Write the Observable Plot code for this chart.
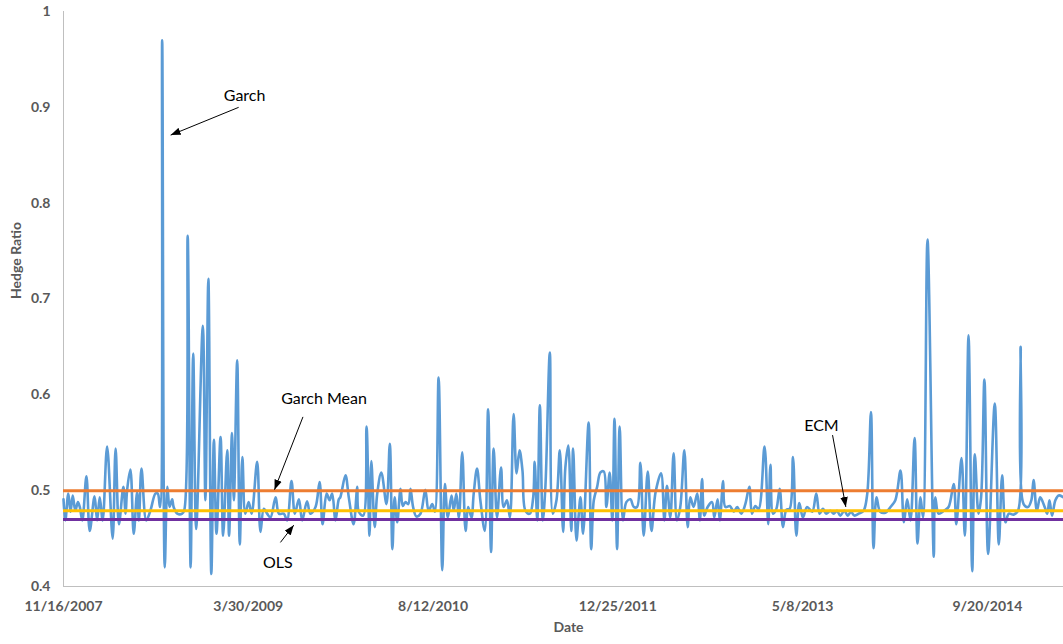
<!DOCTYPE html>
<html>
<head>
<meta charset="utf-8">
<script src="https://cdn.jsdelivr.net/npm/d3@7"></script>
<script src="https://cdn.jsdelivr.net/npm/@observablehq/plot@0.6"></script>
<style>
  body { margin: 0; background: #fff; }
</style>
</head>
<body>
<div id="chart"></div>
<script>
// Weekly GARCH hedge ratio (date, ratio)
const garchSeries = [
  ["2007-11-16",0.491],["2007-11-21",0.469],["2007-11-29",0.497],["2007-12-05",0.478],["2007-12-11",0.495],
  ["2007-12-18",0.479],["2007-12-25",0.488],["2007-12-30",0.483],["2008-01-06",0.469],["2008-01-17",0.515],
  ["2008-01-26",0.458],["2008-02-08",0.494],["2008-02-15",0.469],["2008-02-22",0.493],["2008-03-01",0.469],
  ["2008-03-13",0.546],["2008-03-28",0.450],["2008-04-05",0.544],["2008-04-14",0.465],["2008-04-26",0.504],
  ["2008-05-02",0.476],["2008-05-06",0.500],["2008-05-15",0.522],["2008-05-24",0.455],["2008-06-02",0.498],
  ["2008-06-07",0.469],["2008-06-14",0.523],["2008-06-27",0.469],["2008-07-08",0.479],["2008-07-22",0.497],
  ["2008-07-28",0.497],["2008-08-03",0.483],["2008-08-09",0.970],["2008-08-16",0.420],["2008-08-23",0.504],
  ["2008-08-29",0.483],["2008-09-05",0.491],["2008-09-09",0.483],["2008-09-19",0.476],["2008-10-02",0.476],
  ["2008-10-08",0.480],["2008-10-17",0.766],["2008-10-25",0.420],["2008-11-01",0.643],["2008-11-09",0.460],
  ["2008-11-27",0.672],["2008-12-04",0.490],["2008-12-12",0.721],["2008-12-20",0.413],["2008-12-27",0.553],
  ["2009-01-03",0.455],["2009-01-14",0.556],["2009-01-21",0.453],["2009-02-01",0.542],["2009-02-06",0.453],
  ["2009-02-14",0.560],["2009-02-19",0.490],["2009-02-28",0.636],["2009-03-07",0.444],["2009-03-14",0.535],
  ["2009-03-22",0.476],["2009-03-31",0.488],["2009-04-08",0.476],["2009-04-23",0.530],["2009-05-02",0.457],
  ["2009-05-11",0.481],["2009-05-20",0.476],["2009-05-29",0.472],["2009-06-12",0.493],["2009-06-21",0.476],
  ["2009-07-04",0.476],["2009-07-13",0.469],["2009-07-25",0.510],["2009-08-03",0.476],["2009-08-14",0.491],
  ["2009-08-23",0.469],["2009-09-05",0.489],["2009-09-14",0.476],["2009-09-28",0.483],["2009-10-09",0.509],
  ["2009-10-17",0.465],["2009-10-28",0.497],["2009-11-05",0.490],["2009-11-12",0.497],["2009-11-21",0.469],
  ["2009-11-30",0.491],["2009-12-04",0.493],["2009-12-18",0.516],["2009-12-27",0.493],["2010-01-09",0.465],
  ["2010-01-19",0.504],["2010-01-23",0.478],["2010-02-04",0.474],["2010-02-13",0.567],["2010-02-21",0.453],
  ["2010-02-26",0.531],["2010-03-07",0.462],["2010-03-14",0.497],["2010-03-25",0.519],["2010-04-08",0.486],
  ["2010-04-17",0.549],["2010-04-24",0.439],["2010-04-30",0.493],["2010-05-07",0.467],["2010-05-16",0.502],
  ["2010-05-22",0.484],["2010-05-29",0.488],["2010-06-06",0.486],["2010-06-12",0.502],["2010-06-19",0.483],
  ["2010-06-28",0.473],["2010-07-09",0.476],["2010-07-22",0.501],["2010-07-31",0.479],["2010-08-10",0.486],
  ["2010-08-17",0.478],["2010-08-27",0.618],["2010-09-06",0.417],["2010-09-13",0.507],["2010-09-21",0.472],
  ["2010-10-01",0.495],["2010-10-07",0.479],["2010-10-14",0.497],["2010-10-21",0.472],["2010-10-30",0.540],
  ["2010-11-08",0.458],["2010-11-15",0.483],["2010-11-24",0.472],["2010-11-30",0.497],["2010-12-09",0.523],
  ["2010-12-18",0.490],["2010-12-30",0.458],["2011-01-08",0.585],["2011-01-16",0.436],["2011-01-23",0.544],
  ["2011-02-01",0.472],["2011-02-12",0.524],["2011-02-19",0.483],["2011-02-28",0.490],["2011-03-08",0.472],
  ["2011-03-18",0.580],["2011-03-26",0.518],["2011-04-03",0.542],["2011-04-11",0.521],["2011-04-19",0.479],
  ["2011-05-01",0.476],["2011-05-10",0.493],["2011-05-14",0.530],["2011-05-21",0.469],["2011-05-28",0.589],
  ["2011-06-05",0.469],["2011-06-12",0.504],["2011-06-24",0.644],["2011-07-02",0.476],["2011-07-12",0.490],
  ["2011-07-21",0.542],["2011-07-30",0.457],["2011-08-05",0.524],["2011-08-13",0.547],["2011-08-21",0.458],
  ["2011-08-26",0.544],["2011-09-04",0.448],["2011-09-09",0.469],["2011-09-15",0.493],["2011-09-22",0.455],
  ["2011-10-07",0.571],["2011-10-14",0.439],["2011-10-21",0.490],["2011-10-30",0.504],["2011-11-08",0.519],
  ["2011-11-17",0.520],["2011-11-24",0.483],["2011-12-03",0.519],["2011-12-10",0.469],["2011-12-16",0.575],
  ["2011-12-23",0.439],["2011-12-30",0.567],["2012-01-08",0.469],["2012-01-17",0.488],["2012-01-28",0.491],
  ["2012-02-06",0.483],["2012-02-15",0.483],["2012-02-24",0.529],["2012-03-04",0.453],["2012-03-15",0.520],
  ["2012-03-25",0.458],["2012-04-05",0.498],["2012-04-20",0.518],["2012-04-29",0.469],["2012-05-06",0.505],
  ["2012-05-15",0.472],["2012-05-24",0.539],["2012-06-02",0.469],["2012-06-11",0.483],["2012-06-22",0.542],
  ["2012-07-01",0.462],["2012-07-08",0.493],["2012-07-17",0.483],["2012-07-27",0.497],["2012-08-03",0.469],
  ["2012-08-09",0.512],["2012-08-15",0.474],["2012-08-24",0.483],["2012-09-05",0.488],["2012-09-11",0.472],
  ["2012-09-20",0.491],["2012-09-26",0.469],["2012-10-05",0.510],["2012-10-11",0.483],["2012-10-23",0.484],
  ["2012-11-03",0.478],["2012-11-12",0.483],["2012-11-23",0.476],["2012-12-04",0.486],["2012-12-15",0.504],
  ["2012-12-22",0.476],["2012-12-31",0.484],["2013-01-09",0.481],["2013-01-25",0.546],["2013-02-04",0.465],
  ["2013-02-10",0.527],["2013-02-17",0.476],["2013-02-26",0.481],["2013-03-07",0.502],["2013-03-16",0.462],
  ["2013-03-25",0.480],["2013-04-03",0.481],["2013-04-12",0.535],["2013-04-21",0.453],["2013-04-29",0.487],
  ["2013-05-09",0.472],["2013-05-20",0.483],["2013-06-03",0.478],["2013-06-14",0.497],["2013-06-23",0.476],
  ["2013-07-02",0.481],["2013-07-11",0.476],["2013-07-22",0.479],["2013-07-31",0.476],["2013-08-09",0.479],
  ["2013-08-18",0.474],["2013-08-29",0.479],["2013-09-07",0.474],["2013-09-16",0.478],["2013-09-25",0.474],
  ["2013-10-07",0.476],["2013-10-20",0.479],["2013-10-30",0.497],["2013-11-09",0.582],["2013-11-16",0.440],
  ["2013-11-24",0.493],["2013-12-04",0.478],["2013-12-18",0.477],["2014-01-01",0.483],["2014-01-14",0.490],
  ["2014-01-28",0.521],["2014-02-06",0.467],["2014-02-15",0.491],["2014-02-24",0.469],["2014-03-07",0.555],
  ["2014-03-15",0.445],["2014-03-23",0.493],["2014-03-30",0.472],["2014-04-11",0.762],["2014-04-28",0.431],
  ["2014-05-02",0.493],["2014-05-11",0.476],["2014-05-25",0.479],["2014-06-07",0.483],["2014-06-21",0.507],
  ["2014-06-28",0.465],["2014-07-12",0.534],["2014-07-21",0.453],["2014-07-31",0.662],["2014-08-10",0.416],
  ["2014-08-17",0.538],["2014-08-27",0.476],["2014-09-03",0.493],["2014-09-12",0.616],["2014-09-22",0.434],
  ["2014-10-10",0.591],["2014-10-21",0.444],["2014-10-30",0.516],["2014-11-08",0.467],["2014-11-17",0.476],
  ["2014-11-30",0.475],["2014-12-12",0.479],["2014-12-19",0.650],["2014-12-27",0.486],["2015-01-08",0.483],
  ["2015-01-17",0.490],["2015-01-23",0.511],["2015-02-01",0.479],["2015-02-10",0.493],["2015-02-22",0.483],
  ["2015-03-01",0.476],["2015-03-07",0.490],["2015-03-14",0.474],["2015-03-23",0.490],["2015-04-01",0.495],
  ["2015-04-14",0.493]
];

// Constant hedge ratios from the other estimators
const garchMean = 0.5;
const ecmRatio = 0.479;
const olsRatio = 0.47;

// Axis ticks
const xTickLabels = ["11/16/2007", "3/30/2009", "8/12/2010", "12/25/2011", "5/8/2013", "9/20/2014"];
const yTicks = [0.4, 0.5, 0.6, 0.7, 0.8, 0.9, 1];
const xDomain = ["2007-11-16", "2015-04-14"];

// Callout labels and their pointer arrows
const calloutLabels = [
  {label: "Garch",      date: "2009-03-20", value: 0.912},
  {label: "Garch Mean", date: "2009-10-21", value: 0.596},
  {label: "OLS",        date: "2009-06-18", value: 0.425},
  {label: "ECM",        date: "2013-06-28", value: 0.568}
];
const calloutArrows = [
  {from: ["2009-03-04", 0.900], to: ["2008-09-01", 0.871]},
  {from: ["2009-08-25", 0.577], to: ["2009-06-09", 0.501]},
  {from: ["2009-06-25", 0.446], to: ["2009-07-31", 0.464]},
  {from: ["2013-07-28", 0.558], to: ["2013-09-02", 0.483]}
];

const parse = s => new Date(s);
const fmt = d3.utcFormat("%-m/%-d/%Y");

const series = garchSeries.map(([d, v]) => ({date: parse(d), value: v}));
const xTicks = xTickLabels.map(s => {
  const [m, d, y] = s.split("/").map(Number);
  return new Date(Date.UTC(y, m - 1, d));
});
const labels = calloutLabels.map(c => ({...c, date: parse(c.date)}));
const arrows = calloutArrows.map(a => ({
  x1: parse(a.from[0]), y1: a.from[1], x2: parse(a.to[0]), y2: a.to[1]
}));

const axisGray = "#BFBFBF";
const textGray = "#595959";

const chart = Plot.plot({
  width: 1063,
  height: 644,
  marginTop: 11,
  marginRight: 0,
  marginBottom: 58,
  marginLeft: 63,
  style: {
    fontFamily: "Lato, 'Open Sans', sans-serif",
    fontSize: "14px",
    fontWeight: "bold",
    color: textGray,
    background: "white",
    overflow: "visible"
  },
  x: {type: "utc", domain: xDomain.map(parse)},
  y: {domain: [0.4, 1]},
  marks: [
    Plot.ruleY([0.4], {stroke: axisGray, strokeWidth: 1}),
    Plot.ruleX([parse(xDomain[0])], {stroke: axisGray, strokeWidth: 1}),
    Plot.axisX({ticks: xTicks, tickFormat: fmt, tickSize: 0, tickPadding: 15, label: null}),
    Plot.axisY({ticks: yTicks, tickFormat: d => `${d}`, tickSize: 0, tickPadding: 13, label: null}),
    Plot.lineY(series, {x: "date", y: "value", stroke: "#5B9BD5", strokeWidth: 2.6, curve: "catmull-rom"}),
    Plot.ruleY([garchMean], {stroke: "#ED7D31", strokeWidth: 3}),
    Plot.ruleY([ecmRatio], {stroke: "#FFC000", strokeWidth: 3}),
    Plot.ruleY([olsRatio], {stroke: "#7030A0", strokeWidth: 3}),
    Plot.link(arrows, {x1: "x1", y1: "y1", x2: "x2", y2: "y2", stroke: "black", strokeWidth: 1, markerEnd: "arrow"}),
    Plot.text(labels, {x: "date", y: "value", text: "label", fontSize: 16, fontWeight: "normal", fill: "black"}),
    Plot.text(["Hedge Ratio"], {frameAnchor: "left", text: d => d, dx: -47, rotate: -90, fill: textGray}),
    Plot.text(["Date"], {frameAnchor: "bottom", text: d => d, dx: 5, dy: 45, fill: textGray})
  ]
});

// Solid triangular arrowheads for the callout pointers
chart.querySelectorAll("marker").forEach(m => {
  m.setAttribute("viewBox", "-10 -4 10 8");
  m.setAttribute("markerWidth", 10);
  m.setAttribute("markerHeight", 8);
  m.setAttribute("fill", "black");
  m.setAttribute("stroke", "none");
  const p = m.querySelector("path");
  if (p) p.setAttribute("d", "M-10,-3.8L0,0L-10,3.8Z");
});

document.getElementById("chart").appendChild(chart);
</script>
</body>
</html>
